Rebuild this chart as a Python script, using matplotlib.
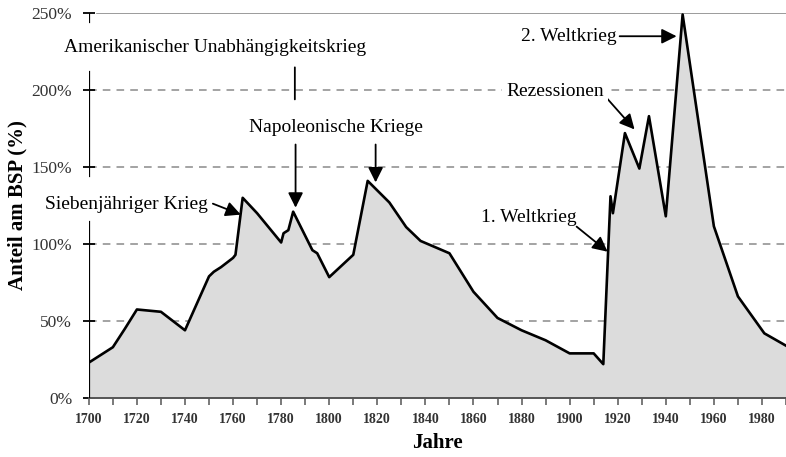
import matplotlib
matplotlib.use('Agg')
import matplotlib.pyplot as plt

plt.rcParams['font.family'] = ['Liberation Serif', 'DejaVu Serif']

# debt as share of GNP
years = [1700, 1705, 1710, 1715, 1720, 1730, 1740, 1750, 1752, 1755, 1760, 1761, 1764,
         1770, 1780, 1781, 1783, 1785, 1793, 1795, 1800, 1810, 1816, 1825, 1832, 1838,
         1850, 1860, 1870, 1880, 1890, 1900, 1910, 1914, 1917, 1918, 1923, 1929, 1933,
         1940, 1947, 1960, 1970, 1981, 1990]
share = [23, 28, 33, 45, 57.5, 56, 44, 79, 82, 85, 91, 93, 130,
         120, 101, 107, 109, 121, 96, 94, 78.5, 93, 141, 127, 111, 102,
         94, 69, 52, 44, 37.5, 29, 29, 22, 131, 120, 172, 149, 183,
         118, 249, 111.5, 66, 42, 34]

ytick_vals = [0, 50, 100, 150, 200, 250]
ytick_labels = ['0%', '50%', '100%', '150%', '200%', '250%']
grid_levels = [50, 100, 150, 200]
major_years = list(range(1700, 1981, 20))
minor_years = list(range(1710, 1991, 10))

fig = plt.figure(figsize=(7.86, 4.57), dpi=100)
ax = fig.add_axes([0.113, 0.129, 0.887, 0.8426])
ax.set_xlim(1700, 1990)
ax.set_ylim(0, 250)

ax.hlines(grid_levels, 1700, 1990, colors='#8a8a8a', linestyles=(0, (5, 4)), lw=1.1, zorder=1)
ax.axhline(250, xmin=0.012, color='#8a8a8a', lw=1.2, zorder=1)

ax.fill_between(years, share, 0, color='#dcdcdc', lw=0, zorder=2)
ax.plot(years, share, color='black', lw=1.9, zorder=3)

for s in ['top', 'right', 'left']:
    ax.spines[s].set_visible(False)
ax.spines['bottom'].set_color('#555555')
ax.spines['bottom'].set_linewidth(1.4)
# left axis line, broken where the labels sit
ax.axvline(1700, ymin=0, ymax=114 / 250, color='black', lw=1.6, zorder=4)
ax.axvline(1700, ymin=144 / 250, ymax=212 / 250, color='black', lw=1.6, zorder=4)
ax.axvline(1700, ymin=244 / 250, ymax=1, color='black', lw=1.6, zorder=4)

ax.set_yticks(ytick_vals)
ax.set_yticklabels(ytick_labels)
ax.tick_params(axis='y', direction='inout', length=8, width=1.3, pad=8,
               labelsize=12.5, labelcolor='#333333')
ax.set_xticks(major_years)
ax.set_xticks(minor_years, minor=True)
ax.tick_params(axis='x', which='both', direction='out', length=5, width=1.1,
               color='#555555', pad=6)
for lab in ax.get_xticklabels():
    lab.set_fontsize(10)
    lab.set_fontweight('bold')
    lab.set_color('#333333')

ax.set_xlabel('Jahre', fontsize=15, fontweight='bold', labelpad=5)
ax.set_ylabel('Anteil am BSP (%)', fontsize=15, fontweight='bold', labelpad=3)

arrow = dict(arrowstyle='-|>,head_length=0.6,head_width=0.3', mutation_scale=15,
             color='black', lw=1.3, shrinkA=0, shrinkB=0)
plain = dict(arrowstyle='-', color='black', lw=1.3, shrinkA=0, shrinkB=0)
tsize = 14

ax.text(1752.4, 227.7, 'Amerikanischer Unabhängigkeitskrieg', fontsize=tsize,
        ha='center', va='center', zorder=5)
ax.annotate('', xy=(1785.7, 193.9), xytext=(1785.7, 214.7), arrowprops=plain)

ax.text(1802.7, 175.7, 'Napoleonische Kriege', fontsize=tsize, ha='center', va='center', zorder=5)
ax.annotate('', xy=(1786, 123.6), xytext=(1786, 164.6), arrowprops=arrow)
ax.annotate('', xy=(1819.3, 140), xytext=(1819.3, 164.6), arrowprops=arrow)

ax.text(1715.8, 125.6, 'Siebenjähriger Krieg', fontsize=tsize, ha='center', va='center', zorder=5)
ax.annotate('', xy=(1763.2, 119.1), xytext=(1751.6, 126.2), arrowprops=arrow)

ax.text(1883, 117, '1. Weltkrieg', fontsize=tsize, ha='center', va='center', zorder=5)
ax.annotate('', xy=(1915.8, 95), xytext=(1902.9, 111.3), arrowprops=arrow)

ax.text(1893.8, 199, 'Rezessionen', fontsize=tsize, ha='center', va='center', zorder=5,
        bbox=dict(facecolor='white', edgecolor='none', pad=3))
ax.annotate('', xy=(1927, 174.4), xytext=(1914.1, 197.1), arrowprops=arrow)

ax.text(1899.6, 234.9, '2. Weltkrieg', fontsize=tsize, ha='center', va='center', zorder=5)
ax.annotate('', xy=(1944.5, 234.9), xytext=(1920.8, 234.9), arrowprops=arrow)

fig.savefig('out.png', dpi=100)
